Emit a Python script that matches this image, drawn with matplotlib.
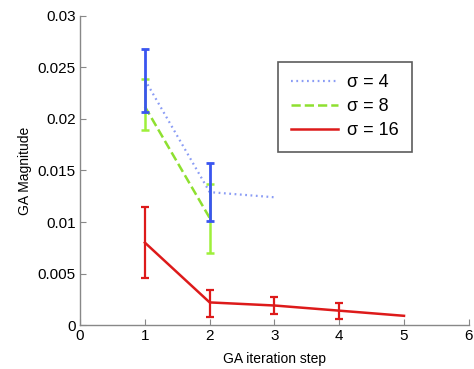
import matplotlib
matplotlib.use("Agg")
import matplotlib.pyplot as plt

plt.rcParams['font.family'] = ['Liberation Sans', 'DejaVu Sans']

x4 = [1, 2, 3]
y4 = [0.0238, 0.0129, 0.0124]
lo4 = [0.0207, 0.0101, 0.0124]
hi4 = [0.0268, 0.0157, 0.0124]

x8 = [1, 2]
y8 = [0.0212, 0.0104]
lo8 = [0.0189, 0.0070]
hi8 = [0.0239, 0.0137]

x16 = [1, 2, 3, 4, 5]
y16 = [0.0080, 0.0022, 0.0019, 0.0014, 0.0009]
lo16 = [0.0046, 0.0008, 0.0011, 0.0006, 0.0009]
hi16 = [0.0115, 0.0034, 0.0027, 0.0021, 0.0009]

xticks = [0, 1, 2, 3, 4, 5, 6]
yticks = [0, 0.005, 0.01, 0.015, 0.02, 0.025, 0.03]
yticklabels = ['0', '0.005', '0.01', '0.015', '0.02', '0.025', '0.03']

fig = plt.figure(figsize=(4.74, 3.69), dpi=100)
ax = fig.add_axes([0.169, 0.119, 0.820, 0.838])

def err(x, y, lo, hi):
    return [[yy - l for yy, l in zip(y, lo)], [h - yy for yy, h in zip(y, hi)]]

l4, = ax.plot(x4, y4, linestyle=(0, (0.8, 1.6)), color='#8a9cf5', lw=1.6, label='σ = 4')
l8, = ax.plot(x8, y8, '--', color='#8ee030', lw=1.8, label='σ = 8')
l16, = ax.plot(x16, y16, '-', color='#dd1a1a', lw=1.8, label='σ = 16')

ax.errorbar(x8, y8, yerr=err(x8, y8, lo8, hi8), fmt='none', ecolor='#9ef03a',
            elinewidth=1.8, capsize=3, capthick=1.8)
ax.errorbar(x4[:2], y4[:2], yerr=err(x4[:2], y4[:2], lo4[:2], hi4[:2]), fmt='none',
            ecolor='#3a55f0', elinewidth=2.0, capsize=3, capthick=2.0)
ax.errorbar(x16[:4], y16[:4], yerr=err(x16[:4], y16[:4], lo16[:4], hi16[:4]), fmt='none',
            ecolor='#dd1a1a', elinewidth=1.6, capsize=3, capthick=1.6)

ax.set_xlim(0, 6)
ax.set_ylim(0, 0.03)
ax.set_xticks(xticks)
ax.set_xticklabels([str(t) for t in xticks])
ax.set_yticks(yticks)
ax.set_yticklabels(yticklabels)
ax.tick_params(direction='in', length=4, color='#888888', labelsize=11, pad=3)
for s in ['top', 'right']:
    ax.spines[s].set_visible(False)
for s in ['left', 'bottom']:
    ax.spines[s].set_color('#888888')
    ax.spines[s].set_linewidth(1.0)

ax.set_xlabel('GA iteration step', fontsize=10, labelpad=6)
ax.set_ylabel('GA Magnitude', fontsize=10, labelpad=4)

leg = ax.legend(handles=[l4, l8, l16], loc='upper left', bbox_to_anchor=(0.509, 0.852),
                borderaxespad=0, fontsize=13, frameon=True, fancybox=False,
                edgecolor='#333333', handlelength=2.6, borderpad=0.7,
                labelspacing=0.38, handletextpad=0.55)
leg.get_frame().set_linewidth(1.2)

fig.savefig('out.png', dpi=100)
